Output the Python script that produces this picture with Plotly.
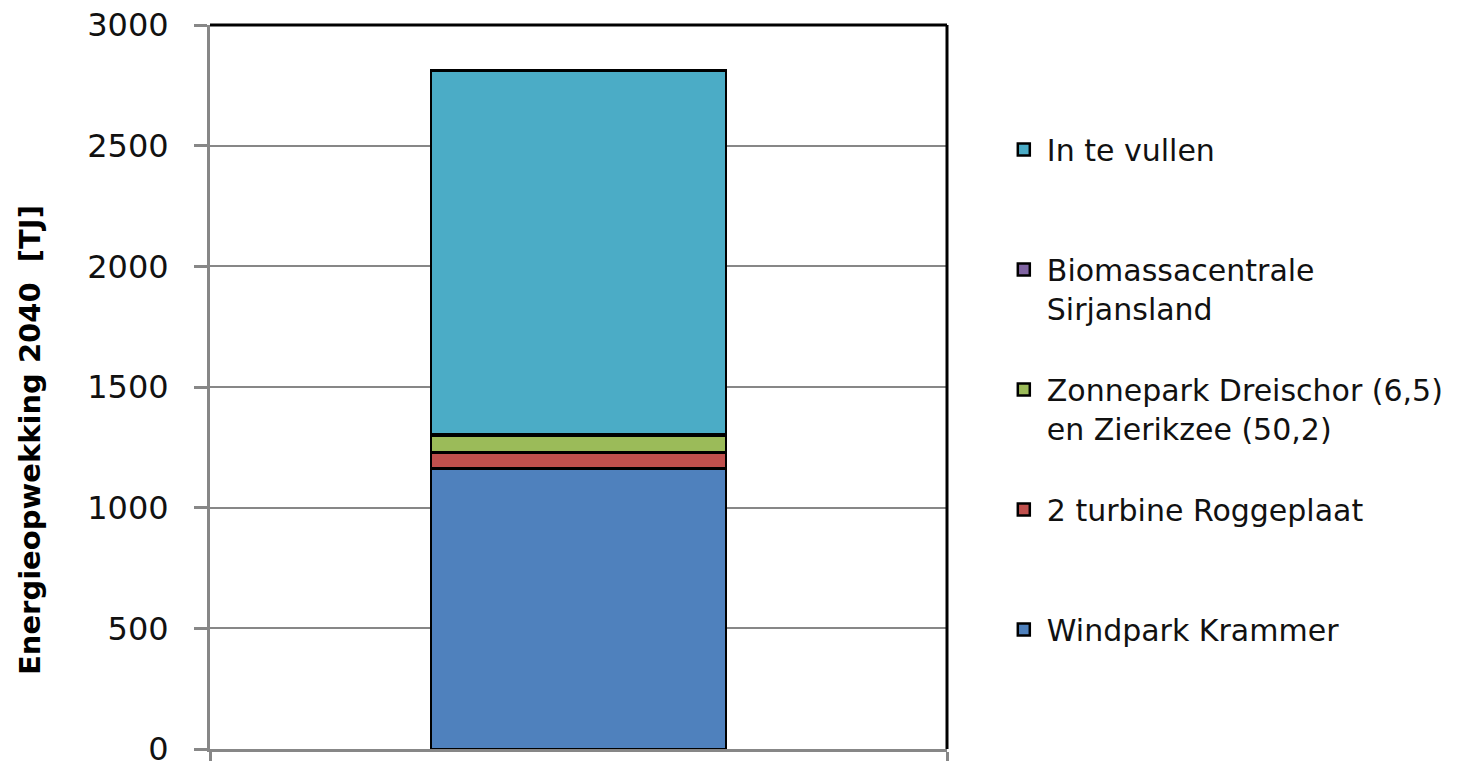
import plotly.graph_objects as go

categories = ["2040"]
series_names = [
    "Windpark Krammer",
    "2 turbine Roggeplaat",
    "Zonnepark Dreischor (6,5)<br>en Zierikzee (50,2)",
    "Biomassacentrale<br>Sirjansland",
    "In te vullen",
]
series_values = [
    [1162],
    [66],
    [68],
    [7],
    [1509],
]
series_colors = ["#4F81BD", "#C0504D", "#9BBB59", "#8064A2", "#4BACC6"]
y_ticks = [0, 500, 1000, 1500, 2000, 2500, 3000]
y_title = "Energieopwekking 2040  [TJ]"

n = len(series_names)
fig = go.Figure()
for i, (name, vals, col) in enumerate(zip(series_names, series_values, series_colors)):
    label = name if "<br>" in name else name + "<br> "
    fig.add_trace(go.Bar(
        x=categories, y=vals, name=label, legendgroup=f"g{i}",
        legendrank=n - i,
        marker=dict(color=col, line=dict(color="black", width=2.5)),
        width=0.4,
    ))

fig.update_layout(
    template="none",
    barmode="stack",
    width=1470, height=761,
    margin=dict(l=210, r=523, t=25, b=12, autoexpand=False),
    plot_bgcolor="white", paper_bgcolor="white",
    font=dict(family="DejaVu Sans", size=30, color="#111111"),
    showlegend=True,
    legend=dict(
        traceorder="grouped", valign="top",
        x=1.073, xanchor="left", y=0.864, yanchor="top",
        font=dict(size=30, color="#111111"),
        tracegroupgap=39, itemwidth=36,
        bgcolor="rgba(0,0,0,0)", borderwidth=0,
    ),
    xaxis=dict(
        type="category", automargin=False,
        showticklabels=False, showgrid=False, zeroline=False,
        showline=True, linecolor="#878787", linewidth=3,
        ticks="outside", ticklen=10, tickwidth=3, tickcolor="#878787",
        tickmode="array", tickvals=[-0.5, 0.5],
        range=[-0.5, 0.5],
    ),
    yaxis=dict(
        automargin=False,
        range=[0, 3000], tickmode="array", tickvals=y_ticks,
        showgrid=True, gridcolor="#878787", gridwidth=2,
        showline=True, linecolor="#878787", linewidth=3,
        ticks="outside", ticklen=13, tickwidth=3, tickcolor="#878787",
        tickfont=dict(size=32, color="#111111"),
        ticklabelstandoff=19, ticklabeloverflow="allow",
        zeroline=False,
    ),
    annotations=[dict(
        text=f"<b>{y_title}</b>", textangle=-90,
        xref="paper", yref="paper", x=-0.244, y=0.427,
        xanchor="center", yanchor="middle", showarrow=False,
        font=dict(size=29, color="black"),
    )],
)

# plot-area border (top and right edges, black as in the original)
fig.add_shape(type="line", xref="paper", yref="paper", x0=0, x1=1, y0=1, y1=1,
              line=dict(color="black", width=3))
fig.add_shape(type="line", xref="paper", yref="paper", x0=1, x1=1, y0=0, y1=1,
              line=dict(color="black", width=3))

# remove the browser's default body margin so the figure sits at the page origin
fig.write_html("out.html", config={"displayModeBar": False},
               post_script="document.body.style.margin='0';")
